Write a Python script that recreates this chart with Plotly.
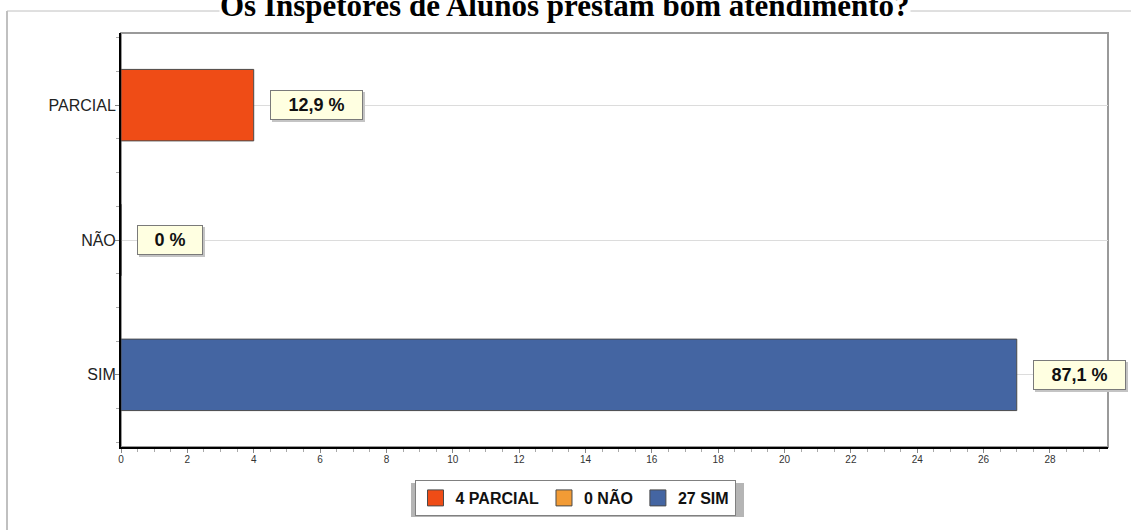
import plotly.graph_objects as go

# Survey answers (counts) and the share of each answer
categories = ["SIM", "NÃO", "PARCIAL"]
counts = [27, 0, 4]
percent_labels = ["87,1 %", "0 %", "12,9 %"]
bar_colors = ["#4465A2", "#F29B35", "#EF4C16"]
title_text = "Os Inspetores de Alunos prestam bom atendimento?"
x_ticks = list(range(0, 30, 2))

W, H = 1131, 530
ML, MR, MT, MB = 121, 23, 33, 83
PW, PH = W - ML - MR, H - MT - MB


def px_x(px):
    return (px - ML) / PW


def px_y(py):
    return (H - MB - py) / PH


fig = go.Figure()

# Bars, one per answer
for i, (cat, n, col) in enumerate(zip(categories, counts, bar_colors)):
    fig.add_trace(go.Bar(
        x=[n], y=[i], orientation="h", width=0.53,
        marker=dict(color=col, line=dict(color="#4a4a4a", width=1)),
        name=cat, showlegend=False, hoverinfo="skip",
    ))

# Legend entries (square swatches), ordered PARCIAL, NÃO, SIM
for cat, n, col in reversed(list(zip(categories, counts, bar_colors))):
    fig.add_trace(go.Scatter(
        x=[None], y=[None], mode="markers", name=f"{n} {cat}",
        marker=dict(symbol="square", size=16, color=col,
                    line=dict(color="#4a4a4a", width=1)),
        hoverinfo="skip",
    ))

annotations = []
for i, (n, lab) in enumerate(zip(counts, percent_labels)):
    w = 9 * len(lab) + 31
    # soft shadow behind the value box
    annotations.append(dict(
        x=n, y=i, xref="x", yref="y", text=lab, showarrow=False,
        xanchor="left", yanchor="middle", xshift=18, yshift=-2,
        width=w, height=22, borderpad=3, bgcolor="#c4c4c4",
        bordercolor="#c4c4c4", borderwidth=1,
        font=dict(family="Arial, Liberation Sans", size=18, color="#c4c4c4"),
    ))
    annotations.append(dict(
        x=n, y=i, xref="x", yref="y", text=f"<b>{lab}</b>", showarrow=False,
        xanchor="left", yanchor="middle", xshift=16,
        width=w, height=22, borderpad=3, bgcolor="#FFFFE1",
        bordercolor="#7a7a7a", borderwidth=1,
        font=dict(family="Arial, Liberation Sans", size=18, color="#111"),
    ))

annotations.append(dict(
    x=px_x(565), y=1, xref="paper", yref="paper", yshift=9,
    text=f"<b>{title_text}</b>", showarrow=False, xanchor="center", yanchor="bottom",
    bgcolor="white", borderpad=0,
    font=dict(family="Liberation Serif, Times New Roman", size=31, color="#000"),
))

shapes = [
    # outer frame (left and top edges)
    dict(type="line", xref="paper", yref="paper", x0=px_x(7), x1=px_x(W + 5),
         y0=px_y(11), y1=px_y(11), line=dict(color="#c0c0c0", width=1)),
    dict(type="line", xref="paper", yref="paper", x0=px_x(7), x1=px_x(7),
         y0=px_y(11), y1=px_y(H + 5), line=dict(color="#c0c0c0", width=2)),
    # plot area border
    dict(type="rect", xref="paper", yref="paper", x0=0, x1=1, y0=0, y1=1,
         line=dict(color="#9a9a9a", width=2), layer="below"),
    # legend shadow
    dict(type="rect", xref="paper", yref="paper", x0=px_x(411), x1=px_x(744),
         y0=px_y(483), y1=px_y(517), fillcolor="#b5b5b5", line=dict(width=0),
         layer="below"),
]

fig.update_layout(
    width=W, height=H,
    margin=dict(l=ML, r=MR, t=MT, b=MB),
    paper_bgcolor="white", plot_bgcolor="white",
    barmode="overlay",
    showlegend=True,
    legend=dict(
        orientation="h", x=px_x(575), xanchor="center", y=px_y(480), yanchor="top",
        bgcolor="white", bordercolor="#808080", borderwidth=1,
        font=dict(family="Arial, Liberation Sans", size=16, color="#111", weight="bold"),
        itemsizing="trace", traceorder="normal",
    ),
    xaxis=dict(
        range=[0, 29.75], tickvals=x_ticks, showgrid=False, zeroline=False,
        showline=True, linecolor="#000", linewidth=2,
        ticks="outside", ticklen=4, tickcolor="#888",
        minor=dict(dtick=0.5, tick0=0, ticks="outside", ticklen=3, tickcolor="#aaa"),
        tickfont=dict(family="Arial, Liberation Sans", size=10, color="#333"),
        ticklabelstandoff=-2,
        fixedrange=True,
    ),
    yaxis=dict(
        range=[-0.535, 2.535], tickvals=[0, 1, 2], ticktext=categories,
        showgrid=True, gridcolor="#dcdcdc", gridwidth=1, zeroline=False,
        showline=True, linecolor="#000", linewidth=2,
        ticks="outside", ticklen=4, tickcolor="#888",
        minor=dict(dtick=0.25, tick0=0, ticks="outside", ticklen=3, tickcolor="#aaa"),
        tickfont=dict(family="Arial, Liberation Sans", size=16, color="#222"),
        ticklabelstandoff=-4,
        fixedrange=True,
    ),
    annotations=annotations,
    shapes=shapes,
)

fig.write_html("out.html", config={"displayModeBar": False})
